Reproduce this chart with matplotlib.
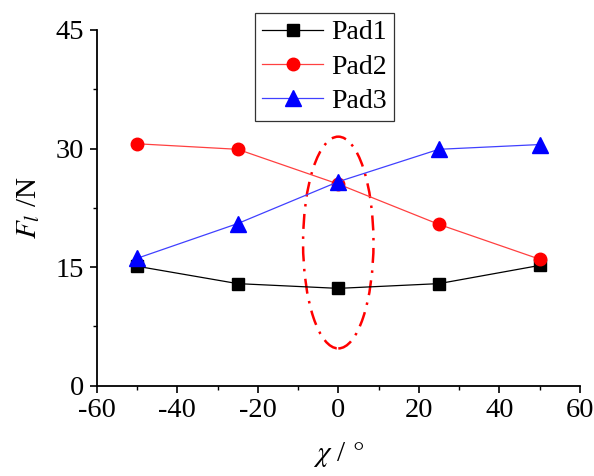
import matplotlib
matplotlib.use('Agg')
import matplotlib.pyplot as plt
from matplotlib.patches import Ellipse
from matplotlib.ticker import MultipleLocator

# data
angle = [-50, -25, 0, 25, 50]
pad1 = [15.1, 12.9, 12.3, 12.9, 15.2]
pad2 = [30.6, 29.9, 25.5, 20.4, 16.0]
pad3 = [16.1, 20.5, 25.8, 29.9, 30.5]

plt.rcParams['font.family'] = ['Liberation Serif', 'DejaVu Serif']
plt.rcParams['mathtext.fontset'] = 'stix'
plt.rcParams['axes.unicode_minus'] = False

fig = plt.figure(figsize=(5.94, 4.76), dpi=100, facecolor='white')
ax = fig.add_axes([0.163, 0.19, 0.813, 0.747])

ax.plot(angle, pad1, color='black', lw=0.9, marker='s', ms=8.5, label='Pad1')
ax.plot(angle, pad2, color='#ff4040', mec='red', mfc='red', lw=0.9, marker='o', ms=9, label='Pad2')
ax.plot(angle, pad3, color='#4040ff', mec='blue', mfc='blue', lw=0.9, marker='^', ms=11, label='Pad3')

ax.add_patch(Ellipse((0, 18.1), 17.5, 26.8, fill=False, edgecolor='red',
                     lw=1.8, linestyle=(0, (6, 3, 1, 3))))

ax.set_xlim(-60, 60)
ax.set_ylim(0, 45)
ax.xaxis.set_major_locator(MultipleLocator(20))
ax.xaxis.set_minor_locator(MultipleLocator(10))
ax.yaxis.set_major_locator(MultipleLocator(15))
ax.yaxis.set_minor_locator(MultipleLocator(7.5))
ax.spines['top'].set_visible(False)
ax.spines['right'].set_visible(False)
ax.spines['left'].set_linewidth(1.3)
ax.spines['bottom'].set_linewidth(1.3)
ax.tick_params(which='major', direction='out', length=5, width=1.2, labelsize=20.5, pad=4)
ax.tick_params(which='minor', direction='out', length=3, width=1.0)

ax.set_xlabel(r'$\chi$ / $\degree$', fontsize=21, labelpad=12)
ax.set_ylabel(r'$F_{l}$ /N', fontsize=21, labelpad=10)

leg = ax.legend(loc='upper center', bbox_to_anchor=(0.472, 1.048), fontsize=20,
                frameon=True, fancybox=False, edgecolor='black', handlelength=2.2,
                borderpad=0.25, labelspacing=0.32, handletextpad=0.3, borderaxespad=0)
leg.get_frame().set_linewidth(0.9)

plt.savefig('out.png', dpi=100)
